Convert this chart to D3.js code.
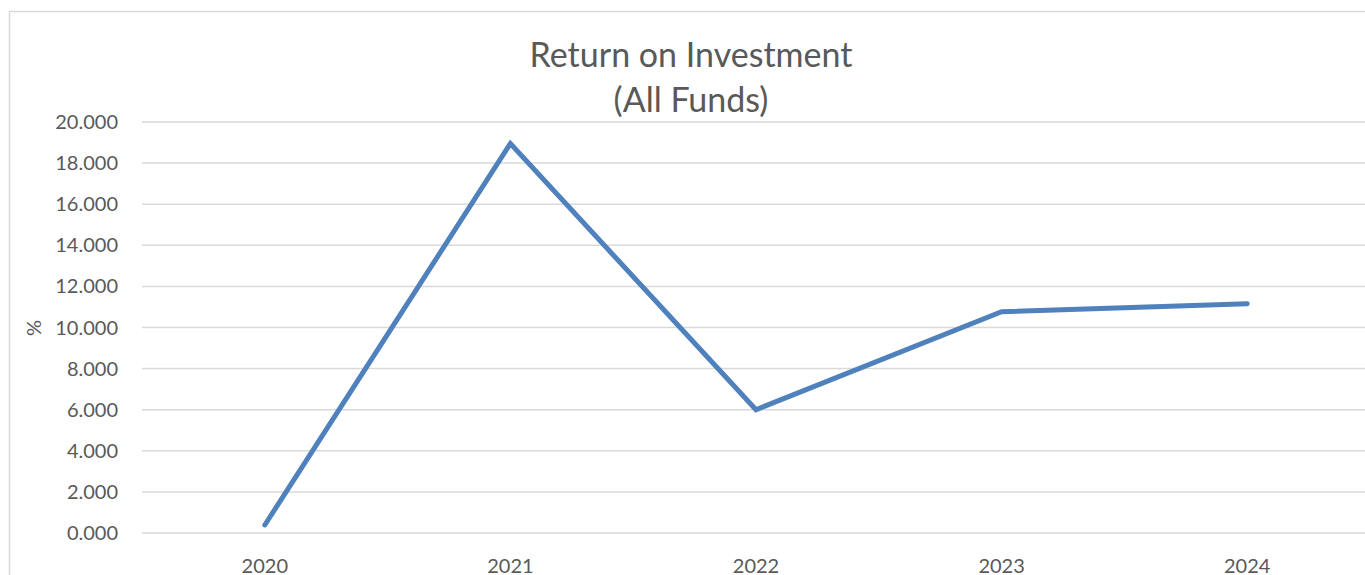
<!DOCTYPE html>
<html>
<head>
<meta charset="utf-8">
<script src="https://cdn.jsdelivr.net/npm/d3@7"></script>
<style>
  body { margin: 0; background: #fff; }
  text { font-family: Lato, "Open Sans", sans-serif; fill: #595959; }
</style>
</head>
<body>
<svg width="1365" height="575"></svg>
<script>
const years = ["2020", "2021", "2022", "2023", "2024"];
const roi = [0.39, 18.95, 6.0, 10.77, 11.16];
const yTicks = [0, 2, 4, 6, 8, 10, 12, 14, 16, 18, 20];

const svg = d3.select("svg");

// chart frame (runs off the right/bottom edge)
svg.append("rect")
  .attr("x", 9.5).attr("y", 11.5)
  .attr("width", 1400).attr("height", 600)
  .attr("fill", "none").attr("stroke", "#d9d9d9").attr("stroke-width", 1.5);

const plotLeft = 142, plotRight = 1370, plotTop = 122, plotBottom = 533;

const x = d3.scalePoint().domain(years).range([plotLeft, plotRight]).padding(0.5);
const y = d3.scaleLinear().domain([0, 20]).range([plotBottom, plotTop]);

// gridlines
svg.append("g")
  .selectAll("line")
  .data(yTicks)
  .join("line")
  .attr("x1", plotLeft).attr("x2", plotRight)
  .attr("y1", d => y(d)).attr("y2", d => y(d))
  .attr("stroke", "#d9d9d9").attr("stroke-width", 1.5);

// y tick labels
svg.append("g")
  .selectAll("text")
  .data(yTicks)
  .join("text")
  .attr("x", 118)
  .attr("y", d => y(d))
  .attr("dy", "0.35em")
  .attr("text-anchor", "end")
  .style("font-size", "20px")
  .text(d => d3.format(".3f")(d));

// x labels
svg.append("g")
  .selectAll("text")
  .data(years)
  .join("text")
  .attr("x", d => x(d))
  .attr("y", 573)
  .attr("text-anchor", "middle")
  .style("font-size", "20px")
  .text(d => d);

// y axis title
svg.append("text")
  .attr("transform", "translate(41,328) rotate(-90)")
  .attr("text-anchor", "middle")
  .style("font-size", "20px")
  .text("%");

// title
svg.append("text")
  .attr("x", 691).attr("y", 67)
  .attr("text-anchor", "middle")
  .style("font-size", "34px")
  .text("Return on Investment");
svg.append("text")
  .attr("x", 691).attr("y", 112)
  .attr("text-anchor", "middle")
  .style("font-size", "34px")
  .text("(All Funds)");

// line
const line = d3.line()
  .x((d, i) => x(years[i]))
  .y(d => y(d));

svg.append("path")
  .datum(roi)
  .attr("d", line)
  .attr("fill", "none")
  .attr("stroke", "#4f81bd")
  .attr("stroke-width", 5)
  .attr("stroke-linecap", "round")
  .attr("stroke-linejoin", "miter");
</script>
</body>
</html>
